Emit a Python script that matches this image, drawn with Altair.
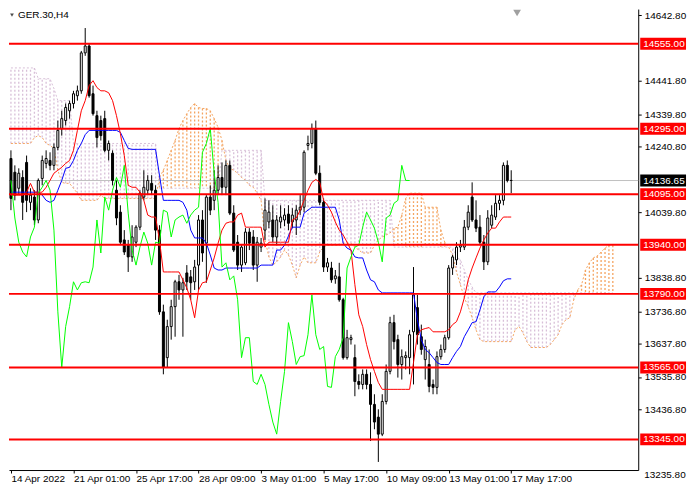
import altair as alt
import pandas as pd

# ---------------- data ----------------
bar_open = [14204,14162,14113,14146,14192,14070,14086,14016,14143,14189,
 14198,14183,14238,14296,14320,14350,14372,14396,14411,14527,
 14548,14402,14335,14320,14326,14229,14220,14107,14040,13955,
 13939,13903,13948,13994,14086,14107,14128,14107,13985,13735,
 13595,13690,13751,13827,13802,13854,13842,13827,13878,14016,
 13945,14086,14076,14107,14146,14116,14183,14037,13948,13878,
 13885,13979,13964,13878,13933,13985,14010,14016,13964,14010,
 14016,14034,14010,14016,14046,14055,14244,14250,14296,14159,
 14070,13872,13869,13836,13842,13772,13595,13650,13595,13522,
 13513,13544,13513,13452,13413,13361,13461,13553,13702,13650,
 13574,13595,13595,13674,13748,13659,13589,13574,13513,13504,
 13598,13620,13656,13869,13894,13933,13933,13994,14086,14016,
 13994,13948,13888,14000,14025,14067,14076,14183,14137]

bar_high = [14229,14183,14174,14168,14213,14113,14107,14143,14213,14229,
 14223,14250,14320,14350,14372,14381,14411,14427,14533,14603,
 14555,14427,14350,14335,14350,14259,14229,14137,14061,13985,
 13955,14000,14000,14107,14168,14153,14153,14122,14000,13757,
 13711,13772,13833,13848,13839,13878,13863,13894,14031,14046,
 14092,14122,14168,14183,14192,14198,14198,14061,13970,13939,
 13991,13991,13985,13964,13961,14082,14076,14061,14031,14061,
 14052,14061,14052,14061,14092,14229,14274,14311,14320,14183,
 14082,13900,13888,13863,13885,13778,13680,13665,13635,13544,
 13559,13559,13550,13483,13437,13483,13574,13720,13726,13665,
 13620,13614,13680,13872,13787,13696,13650,13620,13528,13614,
 13635,13665,13878,13909,13948,13955,14016,14061,14131,14076,
 14031,13970,14046,14061,14092,14092,14192,14198,14168]

bar_low = [14046,14076,14092,14016,14040,14046,14000,14006,14122,14174,
 14168,14168,14229,14274,14305,14326,14357,14381,14402,14518,
 14390,14335,14238,14259,14223,14198,14122,14000,13939,13909,
 13857,13888,13933,13985,14076,14092,14092,13955,13726,13544,
 13565,13650,13659,13772,13659,13802,13772,13802,13802,13888,
 13824,14031,14046,14092,14092,14092,14031,13918,13863,13857,
 13878,13924,13863,13827,13918,13955,13991,13948,13939,13991,
 13997,13985,13991,13970,14031,14040,14229,14235,14153,14061,
 13857,13857,13824,13821,13766,13589,13589,13635,13477,13498,
 13498,13498,13340,13376,13276,13355,13452,13544,13620,13534,
 13528,13559,13544,13513,13635,13604,13528,13489,13483,13483,
 13589,13610,13650,13848,13878,13918,13924,13985,14010,13979,
 13939,13863,13878,13991,14016,14046,14061,14131,14098]

bar_close = [14082,14092,14159,14070,14076,14092,14016,14137,14198,14204,
 14183,14238,14290,14326,14360,14372,14402,14411,14527,14548,
 14396,14341,14268,14274,14229,14250,14137,14022,13948,13918,
 13903,13964,13994,14098,14116,14137,14107,13985,13735,13565,
 13690,13751,13827,13802,13824,13827,13824,13872,14016,13915,
 14086,14046,14107,14146,14116,14183,14037,13924,13878,13933,
 13979,13945,13878,13948,13945,14046,14040,13964,14016,14025,
 14031,14006,14031,14046,14055,14223,14250,14296,14159,14070,
 13872,13885,13833,13845,13772,13595,13656,13656,13522,13513,
 13544,13513,13452,13398,13361,13461,13553,13702,13644,13574,
 13598,13601,13665,13787,13665,13620,13629,13507,13504,13598,
 13620,13656,13869,13903,13933,13939,13994,14040,14016,13991,
 13948,13888,14022,14031,14067,14076,14183,14137,14136.65]

tenkan = [14092,14092,14092,14092,14101,14128,14101,14101,14101,14116,
 14137,14159,14168,14177,14189,14198,14229,14290,14350,14381,
 14427,14442,14421,14411,14411,14405,14381,14335,14280,14213,
 14122,14116,14116,14101,14076,14031,14025,14025,13955,13857,
 13857,13857,13857,13857,13833,13808,13772,13717,13802,13824,
 13827,13863,13900,13945,13985,14006,14010,14010,14031,14037,
 13994,13994,13994,13994,13994,13933,13948,13948,13948,13948,
 13948,13948,14016,14022,14046,14076,14107,14131,14140,14131,
 14076,14061,14040,14010,13985,13970,13948,13924,13818,13726,
 13690,13635,13589,13553,13519,13498,13498,13498,13498,13498,
 13498,13498,13498,13580,13665,13680,13684,13687,13674,13674,
 13674,13674,13680,13696,13705,13735,13778,13833,13869,13900,
 13930,13955,13976,13991,13991,14010,14025,14025,14025]

kijun = [14101,14101,14101,14101,14101,14101,14101,14101,14092,14076,
 14070,14076,14107,14137,14174,14177,14198,14229,14250,14277,
 14290,14290,14290,14290,14290,14290,14290,14290,14284,14259,
 14235,14232,14232,14232,14232,14232,14232,14232,14153,14076,
 14076,14076,14076,14076,14070,14046,13985,13961,13961,13961,
 13945,13909,13869,13863,13863,13869,13869,13869,13869,13869,
 13869,13869,13869,13869,13878,13878,13878,13878,13924,13924,
 13939,13967,13994,13994,13994,14037,14046,14055,14055,14055,
 14055,14055,14055,14055,14016,13945,13930,13924,13903,13900,
 13900,13863,13833,13827,13802,13793,13793,13793,13793,13793,
 13793,13793,13793,13793,13711,13650,13620,13610,13595,13580,
 13574,13574,13574,13595,13614,13629,13659,13680,13702,13705,
 13741,13781,13796,13796,13796,13811,13830,13836,13836]

span_a = [14250,14250,14250,14250,14250,14250,14268,14274,14268,14250,
 14244,14235,14168,14131,14128,14128,14113,14098,14076,14076,
 14076,14076,14076,14092,14082,14082,14082,14082,14082,14082,
 14082,14082,14082,14082,14082,14082,14082,14082,14146,14168,
 14198,14229,14259,14296,14320,14341,14360,14372,14360,14357,
 14357,14350,14326,14299,14259,14198,14174,14168,14159,14146,
 14137,14122,14116,14098,14076,13955,13903,13878,13888,13903,
 13924,13909,13878,13839,13878,13903,13885,13885,13885,13918,
 13933,13939,13939,13939,13939,13945,13945,13945,13933,13924,
 13915,13915,13915,13939,13955,13964,13970,13976,13991,13994,
 14031,14082,14098,14098,14098,14098,14055,14055,14055,14055,
 13985,13948,13933,13909,13857,13818,13778,13751,13717,13680,
 13650,13644,13644,13644,13644,13644,13644,13644,13644,13680,
 13690,13671,13644,13626,13626,13626,13626,13626,13635,13650,
 13665,13696,13711,13717,13772,13802,13818,13863,13885,13900,
 13906,13918,13930,13939,13939]

span_b = ([14481] * 7 + [14448] * 4 + [14418] + [14381] * 4 + [14250] * 22 +
          [14113] * 16 + [14229] * 11 + [14076] * 33 + [13933] * 16 +
          [13903, 13894, 13863, 13833, 13811] + [13793] * 36)

level_values = [14555, 14295, 14095, 13940, 13790, 13565, 13345]
bid_price = 14136.65
chikou_shift = 26

x_tick_bars = [0, 16, 32, 48, 64, 80, 96, 112, 128]
x_tick_labels = ["14 Apr 2022", "21 Apr 01:00", "25 Apr 17:00", "28 Apr 09:00",
                 "3 May 01:00", "5 May 17:00", "10 May 09:00", "13 May 01:00",
                 "17 May 17:00"]
# price-scale labels that are not covered by the level boxes
y_tick_values = [14642.8, 14441.8, 14339.8, 14240.8, 14039.8,
                 13838.8, 13736.8, 13637.8, 13535.8, 13436.8]
y_bottom_label = 13235.8
symbol_title = "GER.30,H4"

# ---------------- frames ----------------
W, H = 632, 463
FONT = "Liberation Sans"

n = len(bar_close)
candles = pd.DataFrame({"bar": list(range(n)), "open": bar_open, "high": bar_high,
                        "low": bar_low, "close": bar_close})
candles["hi"] = candles[["high", "open", "close"]].max(axis=1)
candles["lo"] = candles[["low", "open", "close"]].min(axis=1)
candles["fillc"] = ["#FFFFFF" if c >= o else "#000000"
                    for o, c in zip(bar_open, bar_close)]

lines = pd.DataFrame({"bar": list(range(n)), "tenkan": tenkan, "kijun": kijun})
chikou = pd.DataFrame({"bar": list(range(n - chikou_shift)),
                       "chikou": bar_close[chikou_shift:]})

m = len(span_a)
cloud = pd.DataFrame({"bar": list(range(m)), "a": span_a, "b": span_b[:m]})
cloud["col"] = ["#F4A460" if a >= b else "#D8BFD8" for a, b in zip(span_a, span_b)]

boxes = pd.DataFrame({
    "price": level_values + [bid_price],
    "label": [f"{v:.2f}" for v in level_values + [bid_price]],
    "bg": ["#FF0000"] * len(level_values) + ["#000000"],
})

xs = alt.Scale(domain=[-0.5, 160.5], nice=False, zero=False, padding=0)
ys = alt.Scale(domain=[13251.3, 14661.1], nice=False, zero=False, padding=0)

label_expr = "[" + ",".join(f"'{t}'" for t in x_tick_labels) + "][round(datum.value / 16)]"
x_axis = alt.Axis(values=x_tick_bars, labelExpr=label_expr, labelAlign="left",
                  labelFlush=False, labelOverlap=False, tickSize=3,
                  labelPadding=1, grid=False, title=None)
y_axis = alt.Axis(orient="right", values=y_tick_values, format=".2f",
                  tickSize=3, labelPadding=3, grid=False, title=None,
                  labelOverlap=False, labelFlush=False)


def XX(field="bar:Q"):
    return alt.X(field, scale=xs, axis=x_axis)


def YY(field):
    return alt.Y(field, scale=ys, axis=y_axis)


hatch = alt.Chart(cloud).mark_rule(strokeDash=[2, 2], strokeWidth=1.3).encode(
    x=XX(), y=YY("a:Q"), y2="b:Q", color=alt.Color("col:N", scale=None))
line_a = alt.Chart(cloud).mark_line(strokeDash=[2, 2], strokeWidth=1, color="#F4A460").encode(
    x=XX(), y=YY("a:Q"))
line_b = alt.Chart(cloud).mark_line(strokeDash=[2, 2], strokeWidth=1, color="#D8BFD8").encode(
    x=XX(), y=YY("b:Q"))

bid = alt.Chart(pd.DataFrame({"p": [bid_price]})).mark_rule(color="#C0C0C0", strokeWidth=1).encode(
    y=YY("p:Q"))

wick = alt.Chart(candles).mark_rule(color="black", strokeWidth=1).encode(
    x=XX(), y=YY("lo:Q"), y2="hi:Q")

body = alt.Chart(candles).mark_bar(size=2, stroke="black", strokeWidth=1).encode(
    x=XX(), y=YY("open:Q"), y2="close:Q", fill=alt.Fill("fillc:N", scale=None))

kij = alt.Chart(lines).mark_line(color="#0000FF", strokeWidth=1).encode(
    x=XX(), y=YY("kijun:Q"))
ten = alt.Chart(lines).mark_line(color="#FF0000", strokeWidth=1).encode(
    x=XX(), y=YY("tenkan:Q"))
chi = alt.Chart(chikou).mark_line(color="#00FF00", strokeWidth=1).encode(
    x=XX(), y=YY("chikou:Q"))

levels = alt.Chart(pd.DataFrame({"p": level_values})).mark_rule(
    color="#FF0000", strokeWidth=2).encode(y=YY("p:Q"))

box = alt.Chart(boxes).mark_rule(strokeWidth=12, strokeCap="butt").encode(
    x=alt.value(W + 2), x2=alt.value(W + 48), y=YY("price:Q"),
    color=alt.Color("bg:N", scale=None))
box_text = alt.Chart(boxes).mark_text(align="left", baseline="middle", font=FONT,
                                      fontSize=10, color="white").encode(
    x=alt.value(W + 5), y=YY("price:Q"), text="label:N")

bottom_label = alt.Chart(pd.DataFrame({"p": [y_bottom_label],
                                       "t": [f"{y_bottom_label:.2f}"]})).mark_text(
    align="left", baseline="middle", font=FONT, fontSize=10, color="black").encode(
    x=alt.value(W + 6), y=YY("p:Q"), text="t:N")

title_tri = alt.Chart(pd.DataFrame({"t": [symbol_title]})).mark_point(
    shape="triangle-down", filled=True, color="black", size=14).encode(
    x=alt.value(3), y=alt.value(6))
title_txt = alt.Chart(pd.DataFrame({"t": [symbol_title]})).mark_text(
    align="left", baseline="middle", font=FONT, fontSize=10, color="black").encode(
    x=alt.value(9), y=alt.value(6), text="t:N")
shift_mark = alt.Chart(pd.DataFrame({"bar": [129.5]})).mark_point(
    shape="triangle-down", filled=True, color="#A0A0A0", size=60, opacity=1).encode(
    x=XX(), y=alt.value(4))

chart = alt.layer(
    hatch, line_a, line_b, bid, wick, body, kij, ten, chi, levels,
    box, box_text, bottom_label, title_tri, title_txt, shift_mark
).properties(
    width=W, height=H, padding=0, background="white"
).configure_view(stroke=None).configure_axis(
    labelFont=FONT, labelFontSize=10, labelColor="black",
    domainColor="black", tickColor="black", domainWidth=1
)

chart.save("out.html", embed_options={"renderer": "svg", "actions": False})
